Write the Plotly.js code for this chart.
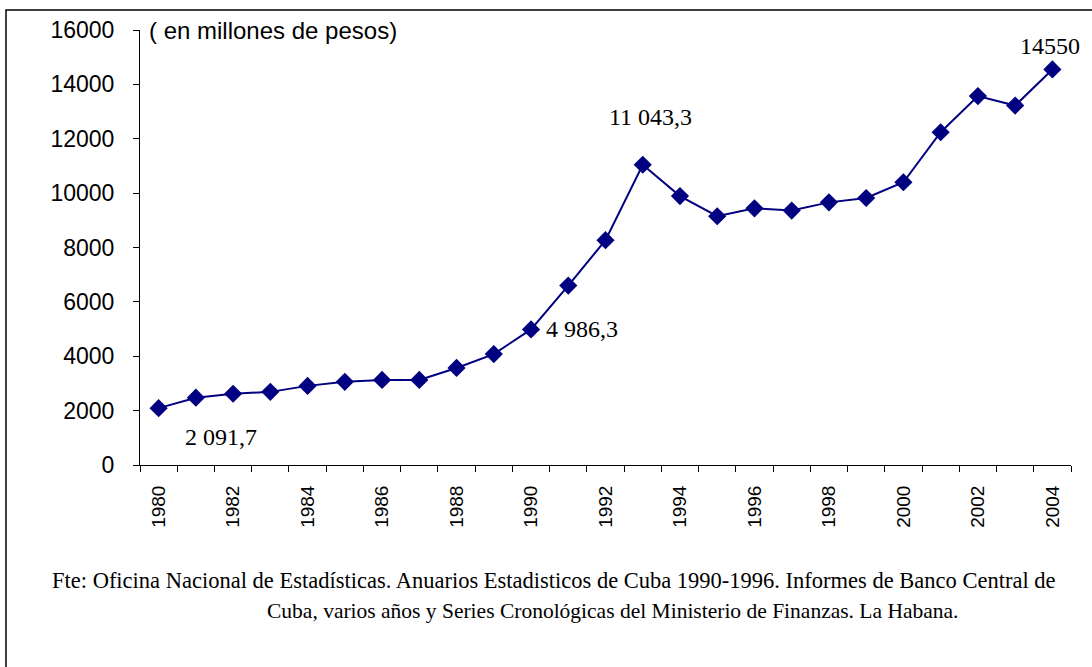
<!DOCTYPE html>
<html>
<head>
<meta charset="utf-8">
<script src="https://cdn.plot.ly/plotly-3.0.1.min.js"></script>
<style>
  html, body { margin: 0; padding: 0; background: #fff; }
  #chart { width: 1092px; height: 667px; }
</style>
</head>
<body>
<div id="chart"></div>
<script>
// Years and values (millones de pesos)
const years = [1980, 1981, 1982, 1983, 1984, 1985, 1986, 1987, 1988, 1989,
               1990, 1991, 1992, 1993, 1994, 1995, 1996, 1997, 1998, 1999,
               2000, 2001, 2002, 2003, 2004];
const values = [2091.7, 2475, 2620, 2690, 2910, 3060, 3130, 3130, 3570, 4080,
                4986.3, 6600, 8270, 11043.3, 9890, 9150, 9440, 9360, 9660, 9820,
                10400, 12240, 13570, 13220, 14550];
const tickYears = [1980, 1982, 1984, 1986, 1988, 1990, 1992, 1994, 1996, 1998, 2000, 2002, 2004];
const yTicks = [0, 2000, 4000, 6000, 8000, 10000, 12000, 14000, 16000];

// Labelled points: index into data, text
const labelIdx = [0, 10, 13, 24];
const labelText = ['2 091,7', '4 986,3', '11 043,3', '14550'];
const unitText = '( en millones de pesos)';
const sourceLine1 = 'Fte: Oficina Nacional de Estadísticas. Anuarios Estadisticos de Cuba 1990-1996. Informes de Banco Central de';
const sourceLine2 = 'Cuba, varios años y Series Cronológicas del Ministerio de Finanzas. La Habana.';

const navy = '#000080';
const serif = 'Liberation Serif, Times New Roman, serif';
const sans = 'Liberation Sans, Arial, sans-serif';

const labelOffsets = [
  {xshift: 62, yshift: -29, xanchor: 'center'},
  {xshift: 13, yshift: 0, xanchor: 'left'},
  {xshift: 8, yshift: 48, xanchor: 'center'},
  {xshift: -2, yshift: 23, xanchor: 'center'}
];

const annotations = labelIdx.map((i, k) => ({
  x: years[i], y: values[i], xref: 'x', yref: 'y',
  text: labelText[k], showarrow: false,
  xanchor: labelOffsets[k].xanchor, yanchor: 'middle',
  xshift: labelOffsets[k].xshift, yshift: labelOffsets[k].yshift,
  font: {family: serif, size: 24, color: '#000'}
}));

annotations.push({
  x: 0.008, y: 1.0, xref: 'paper', yref: 'paper',
  text: unitText, showarrow: false, xanchor: 'left', yanchor: 'middle',
  font: {family: sans, size: 24, color: '#000'}
});
annotations.push({
  x: (50 - 140) / 931, y: (465 - 580) / 435, xref: 'paper', yref: 'paper',
  text: sourceLine1, showarrow: false, xanchor: 'left', yanchor: 'middle',
  font: {family: serif, size: 22.5, color: '#000'}
});
annotations.push({
  x: (265 - 140) / 931, y: (465 - 611) / 435, xref: 'paper', yref: 'paper',
  text: sourceLine2, showarrow: false, xanchor: 'left', yanchor: 'middle',
  font: {family: serif, size: 21.5, color: '#000'}
});

const trace = {
  x: years, y: values, type: 'scatter', mode: 'lines+markers',
  line: {color: navy, width: 2},
  marker: {symbol: 'diamond', size: 14, color: navy},
  hoverinfo: 'skip'
};

const layout = {
  width: 1092, height: 667,
  margin: {l: 140, r: 21, t: 30, b: 202},
  paper_bgcolor: '#fff', plot_bgcolor: '#fff',
  showlegend: false,
  xaxis: {
    range: [1979.5, 2004.5],
    tickmode: 'array', tickvals: tickYears, ticktext: tickYears.map(String),
    tickangle: -90,
    ticks: '', showgrid: false, zeroline: false,
    showline: true, linecolor: '#000', linewidth: 1,
    tickfont: {family: sans, size: 19, color: '#000'},
    ticklabelstandoff: 12,
    minor: {ticks: 'outside', tick0: 1979.5, dtick: 1, ticklen: 6, tickcolor: '#000', tickwidth: 1, showgrid: false}
  },
  yaxis: {
    range: [0, 16000],
    tickmode: 'array', tickvals: yTicks, ticktext: yTicks.map(String),
    ticks: 'outside', ticklen: 6, tickcolor: '#000', tickwidth: 1,
    showgrid: false, zeroline: false,
    showline: true, linecolor: '#000', linewidth: 1,
    tickfont: {family: sans, size: 23, color: '#000'},
    ticklabelstandoff: 14
  },
  annotations: annotations,
  shapes: [{
    type: 'rect', xref: 'paper', yref: 'paper',
    x0: (6 - 140) / 931, x1: (1100 - 140) / 931,
    y0: (465 - 700) / 435, y1: (465 - 10) / 435,
    line: {color: '#000', width: 1.5}, fillcolor: 'rgba(0,0,0,0)'
  }]
};

Plotly.newPlot('chart', [trace], layout, {staticPlot: true, displayModeBar: false});
</script>
</body>
</html>
